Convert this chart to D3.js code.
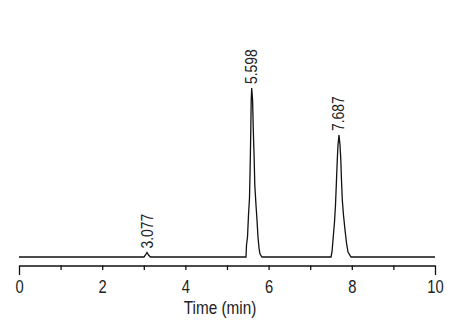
<!DOCTYPE html>
<html>
<head>
<meta charset="utf-8">
<script src="https://cdn.jsdelivr.net/npm/d3@7"></script>
<style>
  html, body { margin: 0; padding: 0; background: #fff; }
  svg { display: block; }
  text { font-family: "Liberation Sans", Arial, sans-serif; fill: #222; }
</style>
</head>
<body>
<svg id="chart" width="456" height="320"></svg>
<script>
// ---- data ----
const times = [
  0.0, 3.005, 3.041, 3.077, 3.113, 3.161,
  5.457, 5.469, 5.493, 5.517, 5.541, 5.560, 5.572, 5.582, 5.594,
  5.615, 5.632, 5.654, 5.668, 5.697, 5.721, 5.745, 5.769, 5.793, 5.841,
  7.500, 7.524, 7.548, 7.584, 7.608, 7.632, 7.651, 7.668, 7.692,
  7.716, 7.736, 7.752, 7.772, 7.800, 7.837, 7.873, 7.909, 7.981,
  10.0
];
const signal = [
  0, 0, 2, 4.5, 2, 0,
  0, 12, 20, 42, 59, 97, 127, 157, 169,
  157, 127, 97, 72, 52, 37, 20, 9, 3, 0,
  0, 5, 17, 35, 52, 77, 97, 112, 122,
  112, 97, 77, 57, 42, 27, 14, 5, 0,
  0
];
const peakTimes = [3.077, 5.598, 7.687];
const peakHeights = [4.5, 169, 122];
const peakLabels = ["3.077", "5.598", "7.687"];
const tickValues = [0, 1, 2, 3, 4, 5, 6, 7, 8, 9, 10];
const tickLabels = ["0", "", "2", "", "4", "", "6", "", "8", "", "10"];
const xTitle = "Time (min)";

// ---- drawing ----
const svg = d3.select("#chart");
const x = d3.scaleLinear().domain([0, 10]).range([19, 435]);
const y = d3.scaleLinear().domain([0, 169]).range([257, 88]);

const pts = times.map((t, i) => [t, signal[i]]);
svg.append("path")
  .datum(pts)
  .attr("fill", "none")
  .attr("stroke", "#111")
  .attr("stroke-width", 1.3)
  .attr("d", d3.line().x(d => x(d[0])).y(d => y(d[1])));

// axis
const axisY = 265.5;
const ax = svg.append("g")
  .attr("transform", `translate(0,${axisY})`)
  .call(d3.axisBottom(x)
    .tickValues(tickValues)
    .tickSize(4.5)
    .tickSizeOuter(0)
    .tickFormat((d, i) => tickLabels[i]));
ax.select(".domain").attr("stroke", "#111").attr("stroke-width", 1.4);
ax.selectAll(".tick line").attr("stroke", "#111").attr("stroke-width", 1.3)
  .attr("y2", d => (d === 0 || d === 10) ? 9.5 : 4.5);
ax.selectAll(".tick text")
  .attr("y", 0)
  .attr("dy", 0)
  .style("font-size", "18px")
  .style("font-family", '"Liberation Sans", Arial, sans-serif')
  .attr("fill", "#222")
  .attr("transform", "translate(0,27.5) scale(0.82,1)")
  .each(function(d) { d3.select(this).attr("x", 0); });

// axis title
svg.append("text")
  .attr("transform", `translate(220,314) scale(0.85,1)`)
  .attr("text-anchor", "middle")
  .style("font-size", "18px")
  .text(xTitle);

// peak labels
peakTimes.forEach((t, i) => {
  svg.append("text")
    .attr("transform", `translate(${x(t) + 5.5},${y(peakHeights[i]) - 4}) rotate(-90) scale(0.82,1)`)
    .attr("text-anchor", "start")
    .style("font-size", "17px")
    .text(peakLabels[i]);
});
</script>
</body>
</html>
